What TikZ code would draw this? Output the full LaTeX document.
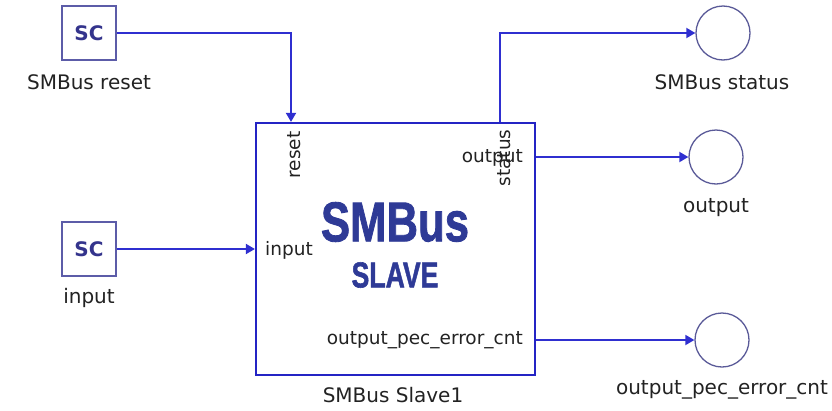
\documentclass[tikz,border=0pt]{standalone}
\usepackage{fontspec}
\setmainfont{DejaVu Sans}
\newfontfamily\bigfont[BoldFeatures={FakeBold=1.6}]{Liberation Sans}
\usetikzlibrary{arrows.meta}
\definecolor{wireblue}{HTML}{2F2FD0}
\definecolor{boxblue}{HTML}{2424C4}
\definecolor{scedge}{HTML}{5C5CA8}
\definecolor{sctext}{HTML}{34348C}
\definecolor{titleblue}{HTML}{2E3A96}
\definecolor{circedge}{HTML}{5A5A98}
\definecolor{txt}{HTML}{222222}
\tikzset{
  wire/.style={draw=wireblue, line width=1.8pt},
  arr/.style={-{Triangle[length=9pt,width=10pt]}},
  scbox/.style={draw=scedge, line width=1.3pt, minimum width=54pt, minimum height=54pt, inner sep=0pt,
    font=\fontsize{20}{22}\selectfont\bfseries, text=sctext},
  portc/.style={draw=circedge, line width=1.3pt, circle, minimum size=54pt, inner sep=0pt},
  lbl/.style={font=\fontsize{20}{22}\selectfont, text=txt, inner sep=0pt},
  plbl/.style={font=\fontsize{18.5}{20}\selectfont, text=txt, inner sep=0pt},
}
\begin{document}
\begin{tikzpicture}[x=1pt,y=-1pt]
\useasboundingbox (0,0) rectangle (832,410);
% main block
\node[draw=boxblue, line width=2.2pt, minimum width=279pt, minimum height=252pt, inner sep=0pt] (main) at (395.5,249) {};
% sources
\node[scbox] (scR) at (89,33) {SC};
\node[lbl] (lR) at (89,82) {SMBus reset};
\node[scbox] (scI) at (89,249) {SC};
\node[lbl] (lI) at (89,298) {input};
% sinks
\node[portc] (cS) at (723,33) {};
\node[lbl] (lS) at (722,82) {SMBus status};
\node[portc] (cO) at (716,157) {};
\node[lbl] (lO) at (716,208) {output};
\node[portc] (cE) at (722,340) {};
\node[lbl] (lE) at (722,390) {output\_pec\_error\_cnt};
% block labels
\node[lbl] (lM) at (393,395) {SMBus Slave1};
\node[plbl, rotate=90] (pReset) at (294,155) {reset};
\node[plbl, rotate=90] (pStatus) at (504,158) {status};
\node[plbl, anchor=east] (pOut) at (523,158) {output};
\node[plbl, anchor=west] (pIn) at (265,250) {input};
\node[plbl, anchor=east] (pPec) at (523,340) {output\_pec\_error\_cnt};
\node[inner sep=0pt, text=titleblue] (t1) at (395,222) {\scalebox{0.78}[1]{\bigfont\bfseries\fontsize{56}{60}\selectfont SMBus}};
\node[inner sep=0pt, text=titleblue] (t2) at (395,275) {\scalebox{0.74}[1]{\bigfont\bfseries\fontsize{36}{40}\selectfont SLAVE}};
% connectors
\draw[wire, arr] (scR.east) -| ([xshift=-104.5pt]main.north);
\draw[wire, arr] (scI.east) -- (main.west);
\draw[wire, arr] ([xshift=104.5pt]main.north) |- (cS.west);
\draw[wire, arr] ([yshift=92pt]main.east) -- (cO.west);
\draw[wire, arr] ([yshift=-91pt]main.east) -- (cE.west);
\end{tikzpicture}
\end{document}
